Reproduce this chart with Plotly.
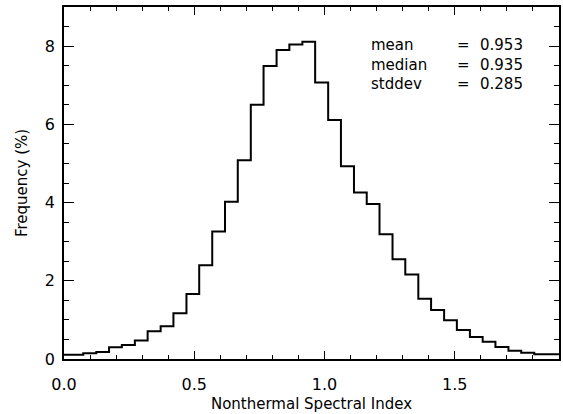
import plotly.graph_objects as go

# Histogram bin edges (Nonthermal Spectral Index) and frequency (%) per bin
bin_edges = [0.0, 0.074, 0.124, 0.173, 0.222, 0.272, 0.321, 0.371, 0.420, 0.470,
             0.519, 0.569, 0.618, 0.667, 0.717, 0.766, 0.816, 0.865, 0.915, 0.964,
             1.014, 1.063, 1.113, 1.162, 1.211, 1.261, 1.310, 1.360, 1.409, 1.459,
             1.508, 1.558, 1.607, 1.656, 1.706, 1.755, 1.805, 1.9]
frequency = [0.11, 0.15, 0.18, 0.30, 0.36, 0.47, 0.71, 0.84, 1.17, 1.66,
             2.40, 3.26, 4.02, 5.08, 6.50, 7.49, 7.90, 8.04, 8.11, 7.07,
             6.11, 4.93, 4.26, 3.96, 3.19, 2.55, 2.16, 1.54, 1.25, 0.99,
             0.74, 0.56, 0.44, 0.31, 0.21, 0.16, 0.12]

stat_names = ["mean", "median", "stddev"]
stat_values = ["0.953", "0.935", "0.285"]

x_ticks = [0.0, 0.5, 1.0, 1.5]
x_ticklabels = ["0.0", "0.5", "1.0", "1.5"]
y_ticks = [0, 2, 4, 6, 8]
y_ticklabels = ["0", "2", "4", "6", "8"]

FONT = "DejaVu Sans"

fig = go.Figure()
fig.add_trace(go.Scatter(
    x=bin_edges,
    y=frequency + [frequency[-1]],
    mode="lines",
    line=dict(shape="hv", color="black", width=2),
    hoverinfo="skip",
    showlegend=False,
))

axis_common = dict(
    showgrid=False, zeroline=False, showline=True, linecolor="black", linewidth=1.5,
    mirror="allticks", ticks="inside", tickcolor="black", tickwidth=1,
    tickfont=dict(family=FONT, size=16, color="black"),
)

fig.update_xaxes(
    range=[0, 1.9], tickvals=x_ticks, ticktext=x_ticklabels, ticklen=8,
    minor=dict(dtick=0.1, ticks="inside", ticklen=4, tickcolor="black", tickwidth=1),
    ticklabelstandoff=10,
    title=dict(text="Nonthermal Spectral Index", font=dict(family=FONT, size=15, color="black"), standoff=6),
    **axis_common,
)
fig.update_yaxes(
    range=[0, 9], tickvals=y_ticks, ticktext=y_ticklabels, ticklen=10,
    minor=dict(dtick=0.5, ticks="inside", ticklen=5, tickcolor="black", tickwidth=1),
    ticklabelstandoff=4,
    title=dict(text="Frequency (%)", font=dict(family=FONT, size=15, color="black"), standoff=14),
    **axis_common,
)

columns = [
    (0.617, "<br>".join(stat_names)),
    (0.789, "<br>".join("=" for _ in stat_names)),
    (0.836, "<br>".join(stat_values)),
]
for xx, txt in columns:
    fig.add_annotation(x=xx, y=0.838, xref="paper", yref="paper", text=txt,
                       showarrow=False, xanchor="left", yanchor="middle", align="left",
                       font=dict(family=FONT, size=15, color="black"))

fig.update_layout(
    width=563, height=414,
    margin=dict(l=64, r=2, t=7, b=55),
    plot_bgcolor="white", paper_bgcolor="white",
)

fig.write_html("out.html", config={"displayModeBar": False},
               post_script="document.body.style.margin='0';document.body.style.overflow='hidden';")
